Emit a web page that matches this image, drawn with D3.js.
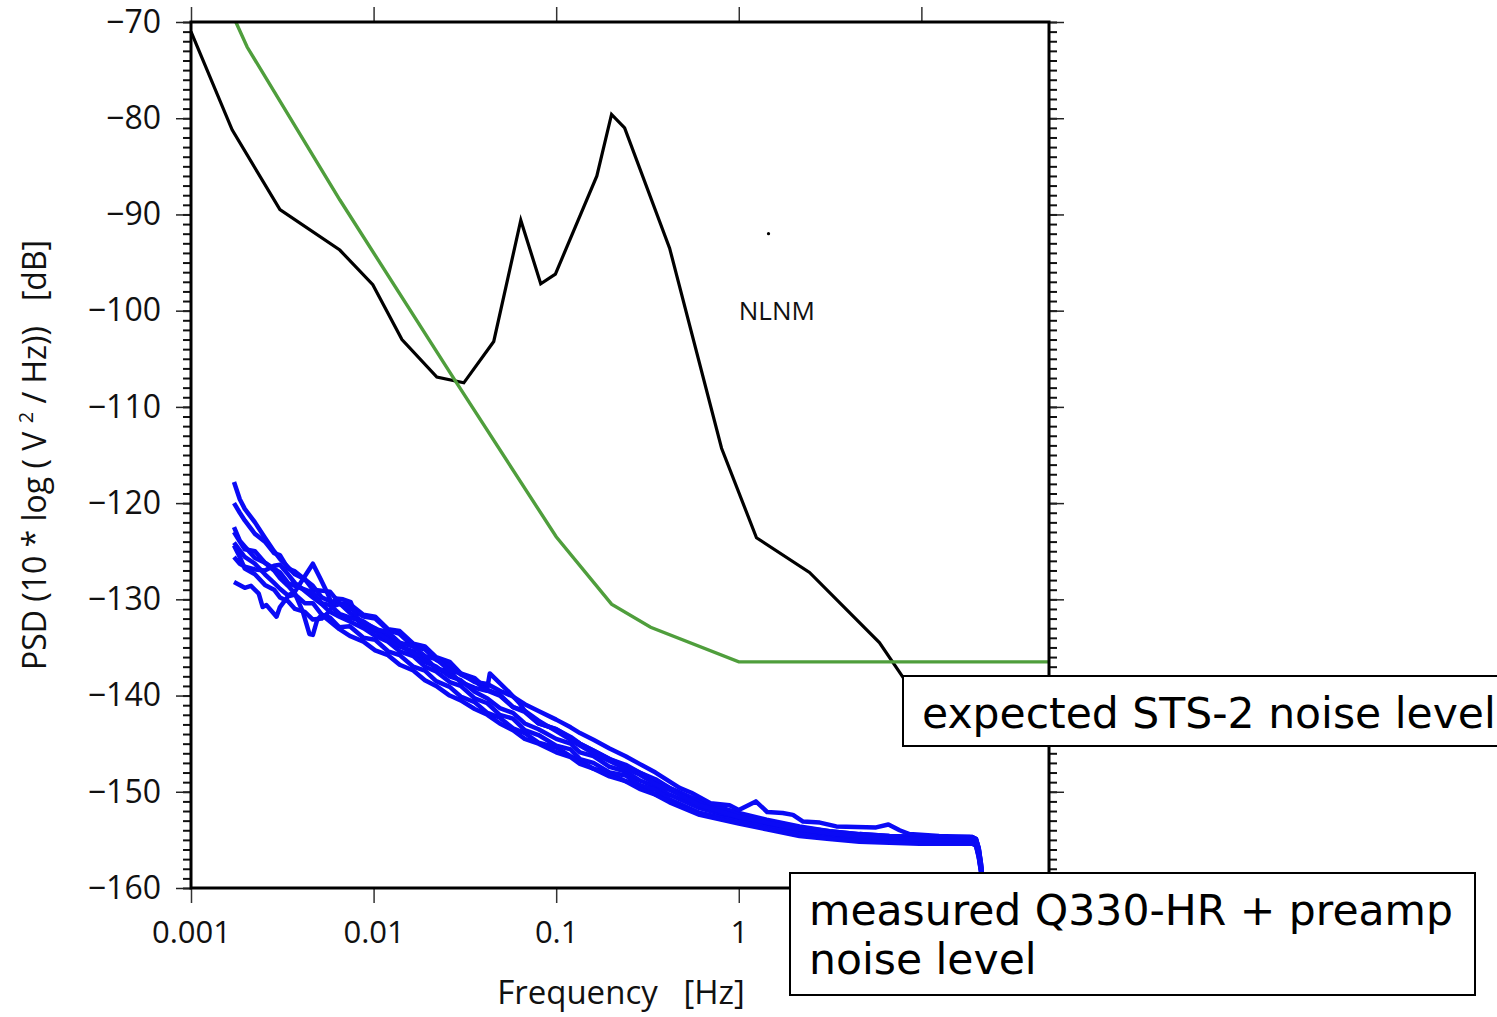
<!DOCTYPE html>
<html>
<head>
<meta charset="utf-8">
<script src="https://cdn.jsdelivr.net/npm/d3@7"></script>
<style>
body { margin: 0; background: #fff; }
svg { display: block; }
text { font-family: "Open Sans", sans-serif; fill: #111; }
.note text { font-family: "DejaVu Sans", sans-serif; fill: #000; }
</style>
</head>
<body>
<div id="chart"></div>
<script>
// axis ticks (the "10" label sits under the lower note box, so it is left blank)
const xTicks = [0.001, 0.01, 0.1, 1, 10]
const xTickLabels = ["0.001", "0.01", "0.1", "1", ""]
const yTicks = [-160, -150, -140, -130, -120, -110, -100, -90, -80, -70]
const yMinor = d3.range(-160, -69, 1)

// New Low Noise Model (black) [Hz, dB]
const nlnm = [
	[0.001, -71.0], [0.00168, -81.2], [0.00307, -89.5], [0.00653, -93.7], [0.0099, -97.3],
	[0.0143, -103.0], [0.0222, -106.9], [0.0312, -107.5], [0.0455, -103.2], [0.064, -90.6],
	[0.0823, -97.2], [0.099, -96.2], [0.167, -86.0], [0.201, -79.6], [0.237, -81.0],
	[0.418, -93.5], [0.805, -114.3], [1.25, -123.6], [2.44, -127.2], [5.89, -134.5],
	[7.87, -138.0], [10, -141.0]
]
const nlnmDot = [[1.455, -92.0]]

// expected STS-2 noise level (green)
const sts2 = [
	[0.00176, -70.0], [0.00203, -72.6], [0.00654, -88.5], [0.0278, -107.2], [0.1, -123.5],
	[0.201, -130.5], [0.329, -132.9], [1.0, -136.5], [50, -136.5]
]

// measured Q330-HR + preamp (blue), one array per recording
const q1 = [[0.00172,-117.8],[0.00185,-119.6],[0.00197,-120.6],[0.00224,-122.0],[0.00254,-123.6],[0.00285,-125.0],[0.00307,-125.8],[0.00371,-127.4],[0.0042,-127.9],[0.00465,-129.0],[0.00577,-129.2],[0.0065,-130.4],[0.00741,-130.5],[0.0088,-131.6],[0.0102,-131.8],[0.012,-133.1],[0.0139,-133.3],[0.0165,-134.6],[0.0191,-134.9],[0.022,-136.0],[0.0261,-136.5],[0.03,-137.7],[0.0358,-138.2],[0.042,-139.4],[0.0491,-139.9],[0.058,-141.2],[0.0673,-141.6],[0.08,-142.9],[0.1,-143.5],[0.135,-145.0],[0.196,-146.6],[0.286,-148.0],[0.418,-149.6],[0.61,-151.0],[1.0,-152.3],[1.42,-153.0],[2.15,-153.7],[3.14,-154.1],[4.58,-154.4],[6.68,-154.6],[9.75,-154.7],[14.2,-154.7],[19.0,-154.7],[19.9,-154.9],[20.6,-155.9],[21.2,-157.6],[21.8,-160.0]]
const q2 = [[0.00172,-120.0],[0.00185,-121.0],[0.00197,-121.8],[0.00224,-123.2],[0.00254,-124.0],[0.00285,-125.2],[0.00307,-125.4],[0.0034,-126.8],[0.00371,-127.1],[0.00465,-128.6],[0.0052,-129.8],[0.00577,-130.2],[0.0065,-130.4],[0.00741,-131.4],[0.0088,-132.4],[0.0102,-133.0],[0.012,-133.9],[0.0139,-134.9],[0.0165,-135.4],[0.0191,-136.5],[0.022,-137.0],[0.0261,-138.0],[0.03,-138.4],[0.0358,-139.6],[0.042,-140.3],[0.0491,-141.3],[0.058,-141.8],[0.0673,-142.9],[0.08,-143.5],[0.1,-144.5],[0.12,-145.0],[0.135,-145.9],[0.16,-146.3],[0.196,-147.4],[0.24,-147.9],[0.286,-148.8],[0.35,-149.5],[0.418,-150.3],[0.61,-151.7],[1.0,-152.8],[1.42,-153.4],[2.15,-154.1],[3.14,-154.5],[4.58,-154.8],[6.68,-155.0],[9.75,-155.1],[14.2,-155.1],[19.0,-155.1],[19.9,-155.3],[20.6,-156.4],[21.2,-157.9],[21.8,-160.0]]
const q3 = [[0.00172,-122.5],[0.00185,-123.9],[0.00197,-124.5],[0.00224,-125.7],[0.00254,-126.2],[0.00285,-127.0],[0.00307,-127.8],[0.0034,-128.6],[0.00371,-129.4],[0.0041,-131.3],[0.00445,-133.6],[0.00465,-133.7],[0.0049,-132.2],[0.0052,-131.6],[0.00577,-131.9],[0.0065,-132.9],[0.00741,-132.8],[0.0088,-134.0],[0.0102,-134.2],[0.012,-135.4],[0.0139,-135.8],[0.0165,-137.0],[0.0191,-137.4],[0.022,-138.5],[0.0261,-139.1],[0.03,-140.1],[0.0358,-140.7],[0.042,-141.8],[0.0491,-142.3],[0.058,-143.4],[0.0673,-143.9],[0.08,-144.9],[0.1,-145.4],[0.12,-146.3],[0.135,-146.8],[0.16,-147.6],[0.196,-148.1],[0.24,-148.9],[0.286,-149.3],[0.35,-150.3],[0.418,-150.8],[0.61,-152.2],[1.0,-153.1],[1.42,-153.7],[2.15,-154.4],[3.14,-154.8],[4.58,-155.1],[6.68,-155.2],[9.75,-155.3],[14.2,-155.3],[19.0,-155.3],[19.9,-155.5],[20.6,-156.6],[21.2,-158.1],[21.8,-160.0]]
const q4 = [[0.00172,-124.1],[0.00185,-124.9],[0.00197,-125.6],[0.00224,-126.3],[0.00254,-127.4],[0.00285,-128.3],[0.00307,-128.9],[0.0034,-129.6],[0.00371,-129.2],[0.0042,-127.6],[0.00465,-126.3],[0.0051,-127.8],[0.0056,-129.4],[0.006,-130.7],[0.0065,-130.5],[0.00741,-130.9],[0.0088,-131.8],[0.0102,-132.0],[0.012,-133.2],[0.0139,-133.6],[0.0165,-134.9],[0.0191,-135.2],[0.022,-136.3],[0.0261,-136.9],[0.03,-137.8],[0.0358,-138.5],[0.042,-139.5],[0.0491,-140.0],[0.058,-141.2],[0.0673,-141.7],[0.08,-142.9],[0.1,-143.5],[0.12,-144.3],[0.135,-145.0],[0.16,-145.7],[0.196,-146.6],[0.24,-147.2],[0.286,-148.0],[0.35,-148.7],[0.418,-149.6],[0.61,-151.0],[1.0,-152.2],[1.42,-152.9],[2.15,-153.6],[3.14,-154.1],[4.58,-154.4],[6.68,-154.6],[9.75,-154.7],[14.2,-154.7],[19.0,-154.7],[19.9,-154.9],[20.6,-155.8],[21.2,-157.4],[21.8,-160.0]]
const q5 = [[0.00172,-125.6],[0.00185,-126.3],[0.00197,-126.6],[0.00224,-126.9],[0.00254,-127.0],[0.00285,-126.5],[0.00307,-126.4],[0.0034,-127.4],[0.00371,-128.3],[0.00465,-129.8],[0.0052,-130.5],[0.00577,-131.3],[0.0065,-131.8],[0.00741,-132.3],[0.0088,-133.0],[0.0102,-133.8],[0.012,-134.4],[0.0139,-135.4],[0.0165,-135.9],[0.0191,-137.0],[0.022,-137.5],[0.0261,-138.6],[0.03,-139.0],[0.0358,-140.3],[0.042,-140.8],[0.0491,-142.0],[0.058,-142.4],[0.0673,-143.6],[0.08,-144.1],[0.1,-145.2],[0.12,-145.6],[0.135,-146.6],[0.16,-147.0],[0.196,-148.0],[0.24,-148.3],[0.286,-149.3],[0.35,-149.8],[0.418,-150.8],[0.61,-152.2],[1.0,-153.1],[1.42,-153.7],[2.15,-154.4],[3.14,-154.8],[4.58,-155.0],[6.68,-155.2],[9.75,-155.3],[14.2,-155.3],[19.0,-155.3],[19.9,-155.5],[20.6,-156.7],[21.2,-158.2],[21.8,-160.0]]
const q6 = [[0.00172,-128.2],[0.00197,-128.8],[0.00213,-128.6],[0.00235,-129.4],[0.00247,-130.8],[0.00259,-130.6],[0.00294,-131.8],[0.00307,-130.8],[0.0034,-129.7],[0.00371,-129.5],[0.0042,-130.4],[0.00465,-130.4],[0.0052,-131.6],[0.00577,-132.3],[0.0065,-133.1],[0.00741,-133.8],[0.0088,-134.4],[0.0102,-135.3],[0.012,-135.8],[0.0139,-136.8],[0.0165,-137.4],[0.0191,-138.4],[0.022,-139.0],[0.0261,-140.0],[0.03,-140.5],[0.0358,-141.4],[0.042,-142.0],[0.0491,-142.9],[0.058,-143.6],[0.0673,-144.5],[0.08,-145.0],[0.1,-145.9],[0.12,-146.4],[0.135,-147.1],[0.16,-147.6],[0.196,-148.4],[0.24,-148.9],[0.286,-149.7],[0.35,-150.3],[0.418,-151.1],[0.61,-152.4],[1.0,-153.3],[1.42,-153.9],[2.15,-154.6],[3.14,-154.9],[4.58,-155.2],[6.68,-155.3],[9.75,-155.4],[14.2,-155.4],[19.0,-155.4],[19.9,-155.6],[20.6,-156.8],[21.2,-158.3],[21.8,-160.0]]
const q7 = [[0.00172,-124.4],[0.00185,-125.6],[0.00197,-126.8],[0.00224,-127.4],[0.00254,-128.5],[0.00285,-129.0],[0.00307,-129.8],[0.0034,-130.2],[0.00371,-131.0],[0.0042,-131.3],[0.00465,-132.1],[0.0052,-132.0],[0.00577,-131.2],[0.0062,-129.9],[0.0068,-130.0],[0.0075,-130.3],[0.0082,-132.2],[0.0093,-133.1],[0.0102,-133.3],[0.012,-134.2],[0.0139,-134.8],[0.0165,-135.6],[0.0191,-136.0],[0.022,-137.2],[0.0261,-137.5],[0.03,-138.6],[0.0358,-139.2],[0.0417,-139.5],[0.0433,-137.7],[0.0556,-139.7],[0.063,-140.8],[0.0673,-141.6],[0.08,-142.6],[0.1,-143.7],[0.12,-144.6],[0.135,-145.2],[0.16,-146.0],[0.196,-146.8],[0.24,-147.6],[0.286,-148.2],[0.35,-149.2],[0.418,-149.8],[0.61,-151.4],[1.0,-152.6],[1.42,-153.2],[2.15,-153.9],[3.14,-154.3],[4.58,-154.6],[6.68,-154.8],[9.75,-154.9],[14.2,-154.9],[19.0,-154.9],[19.9,-155.1],[20.6,-156.2],[21.2,-157.8],[21.8,-160.0]]
const q8 = [[0.00172,-123.0],[0.00185,-124.0],[0.00197,-124.8],[0.00224,-125.0],[0.00254,-126.2],[0.00285,-126.8],[0.00307,-127.2],[0.0034,-128.3],[0.00371,-128.6],[0.00465,-129.3],[0.0052,-130.4],[0.00577,-130.6],[0.0065,-131.5],[0.00741,-131.9],[0.0088,-132.3],[0.0102,-133.1],[0.012,-133.4],[0.0139,-134.5],[0.0165,-134.9],[0.0191,-135.9],[0.022,-136.2],[0.0261,-137.4],[0.03,-137.7],[0.0358,-138.6],[0.042,-138.8],[0.0491,-139.5],[0.058,-140.1],[0.0673,-140.9],[0.08,-141.6],[0.1,-142.5],[0.12,-143.3],[0.135,-143.9],[0.16,-144.6],[0.196,-145.5],[0.24,-146.3],[0.286,-147.1],[0.35,-148.0],[0.474,-149.6],[0.55,-150.1],[0.70,-151.2],[0.89,-151.4],[1.0,-151.9],[1.24,-151.0],[1.43,-152.1],[1.74,-152.2],[1.98,-152.4],[2.25,-153.1],[2.78,-153.2],[3.42,-153.6],[5.65,-153.7],[6.6,-153.4],[7.6,-154.0],[8.6,-154.4],[12.5,-154.6],[18.3,-154.7],[19.9,-154.9],[20.6,-155.9],[21.2,-157.5],[21.8,-160.0]]
const measured = [q1, q2, q3, q4, q5, q6, q7, q8]

const notes = [
	{ lines: ["expected STS-2 noise level"], x: 903, y: 676, w: 620, h: 70 },
	{ lines: ["measured Q330-HR + preamp", "noise level"], x: 790, y: 873, w: 685, h: 122 },
]

// chart dimensions
const width = 1497
const height = 1017
const margin = { top: 22, right: 448, bottom: 129, left: 191 }
const boundedWidth = width - margin.left - margin.right
const boundedHeight = height - margin.top - margin.bottom

const svg = d3.select("#chart")
	.append("svg")
	.attr("width", width)
	.attr("height", height)

const bounds = svg.append("g")
	.attr("transform", `translate(${margin.left},${margin.top})`)

const x = d3.scaleLog().domain([0.001, 50]).range([0, boundedWidth])
const y = d3.scaleLinear().domain([-160, -70]).range([boundedHeight, 0])

const line = d3.line()
	.x(d => x(d[0]))
	.y(d => y(d[1]))

// axes
const styleTicks = (g, w, col) => {
	g.select(".domain").remove()
	g.selectAll(".tick line").attr("stroke", col).attr("stroke-width", w)
}

bounds.append("g")
	.call(d3.axisLeft(y).tickValues(yMinor).tickSize(8).tickFormat(""))
	.call(g => styleTicks(g, 2, "#111"))
bounds.append("g")
	.attr("transform", `translate(${boundedWidth},0)`)
	.call(d3.axisRight(y).tickValues(yMinor).tickSize(8).tickFormat(""))
	.call(g => styleTicks(g, 2, "#111"))

const yAxis = bounds.append("g")
	.call(d3.axisLeft(y).tickValues(yTicks).tickSize(15).tickPadding(15))
	.call(g => styleTicks(g, 1.5, "#222"))
yAxis.selectAll(".tick text")
	.style("font-size", "32px")
	.attr("fill", "#111")

bounds.append("g")
	.attr("transform", `translate(${boundedWidth},0)`)
	.call(d3.axisRight(y).tickValues(yTicks).tickSize(15).tickFormat(""))
	.call(g => styleTicks(g, 1.5, "#222"))

bounds.append("g")
	.call(d3.axisTop(x).tickValues(xTicks).tickSize(15).tickFormat(""))
	.call(g => styleTicks(g, 1.5, "#333"))

const xAxis = bounds.append("g")
	.attr("transform", `translate(0,${boundedHeight})`)
	.call(d3.axisBottom(x).tickValues(xTicks).tickSize(15).tickPadding(18)
		.tickFormat((d, i) => xTickLabels[i]))
	.call(g => styleTicks(g, 1.5, "#333"))
xAxis.selectAll(".tick text")
	.style("font-size", "31px")
	.attr("fill", "#111")

// curves
bounds.append("g")
	.selectAll("path")
	.data(measured)
	.join("path")
	.attr("d", line)
	.attr("fill", "none")
	.attr("stroke", "#0a0af5")
	.attr("stroke-width", 4.5)
	.attr("stroke-linejoin", "round")

bounds.append("path")
	.attr("d", line(nlnm))
	.attr("fill", "none")
	.attr("stroke", "#000")
	.attr("stroke-width", 3.2)

bounds.append("path")
	.attr("d", line(sts2))
	.attr("fill", "none")
	.attr("stroke", "#4f9e3c")
	.attr("stroke-width", 3.4)

bounds.selectAll(".dot")
	.data(nlnmDot)
	.join("circle")
	.attr("cx", d => x(d[0]))
	.attr("cy", d => y(d[1]))
	.attr("r", 1.6)
	.attr("fill", "#000")

bounds.append("text")
	.attr("x", x(1.0))
	.attr("y", y(-101.0))
	.style("font-size", "26px")
	.text("NLNM")

// frame
bounds.append("rect")
	.attr("width", boundedWidth)
	.attr("height", boundedHeight)
	.attr("fill", "none")
	.attr("stroke", "#000")
	.attr("stroke-width", 3)

// axis titles
svg.append("text")
	.attr("transform", "translate(46,455) rotate(-90)")
	.attr("text-anchor", "middle")
	.style("font-size", "32px")
	.style("white-space", "pre")
	.call(t => {
		t.append("tspan").text("PSD (10 * log ( V ")
		t.append("tspan").attr("dy", -13).style("font-size", "20px").text("2")
		t.append("tspan").attr("dy", 13).text(" / Hz))   [dB]")
	})

svg.append("text")
	.attr("x", 621)
	.attr("y", 1004)
	.attr("text-anchor", "middle")
	.style("font-size", "33px")
	.style("white-space", "pre")
	.text("Frequency   [Hz]")

// annotation boxes
const note = svg.selectAll(".note")
	.data(notes)
	.join("g")
	.attr("class", "note")
	.attr("transform", d => `translate(${d.x},${d.y})`)
note.append("rect")
	.attr("width", d => d.w)
	.attr("height", d => d.h)
	.attr("fill", "#fff")
	.attr("stroke", "#000")
	.attr("stroke-width", 2)
note.selectAll("text")
	.data(d => d.lines)
	.join("text")
	.attr("x", 19)
	.attr("y", (d, i) => 52 + i * 49)
	.style("font-size", "42.5px")
	.text(d => d)
</script>
</body>
</html>
